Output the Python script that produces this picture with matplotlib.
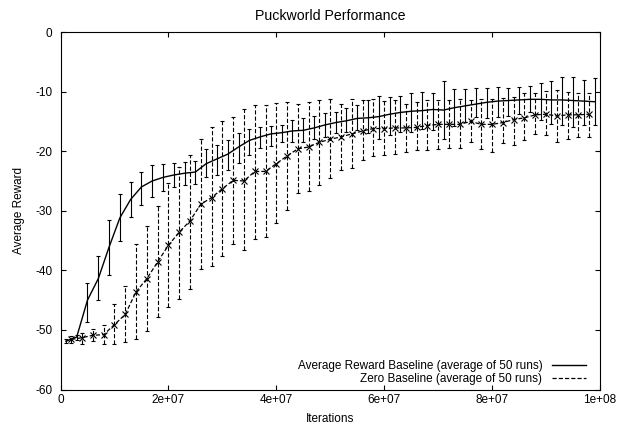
#!/usr/bin/env python3
"""Puckworld performance: average reward vs iterations, two baselines with error bars."""
import matplotlib
matplotlib.use("Agg")
import matplotlib.pyplot as plt
import matplotlib.ticker
from matplotlib.lines import Line2D
import numpy as np

# Average Reward Baseline (iterations in millions)
AVG_ITERS_M = [1, 3, 5, 7, 9, 11, 13, 15, 17, 19, 21, 23, 25, 27, 29, 31, 33, 35, 37, 39,
               41, 43, 45, 47, 49, 51, 53, 55, 57, 59, 61, 63, 65, 67, 69, 71, 73, 75, 77, 79,
               81, 83, 85, 87, 89, 91, 93, 95, 97, 99]
AVG_MEAN = [-51.9, -51.2, -45.0, -41.4, -36.1, -31.2, -28.1, -26.0, -25.0, -24.4,
            -24.0, -23.7, -23.5, -22.1, -21.3, -20.5, -19.3, -18.2, -17.6, -17.1,
            -16.9, -16.6, -16.5, -16.1, -15.6, -15.2, -14.9, -14.5, -14.4, -14.2,
            -13.8, -13.5, -13.3, -13.2, -13.0, -13.1, -12.7, -12.4, -12.1, -11.8,
            -11.6, -11.5, -11.4, -11.3, -11.3, -11.4, -11.4, -11.5, -11.6, -11.7]
AVG_LOW = [-52.2, -51.7, -48.7, -45.0, -40.8, -35.1, -31.1, -29.1, -27.7, -26.7,
           -26.0, -25.7, -25.5, -24.4, -24.0, -23.1, -22.0, -20.7, -19.5, -19.2,
           -18.4, -18.4, -18.4, -17.9, -17.6, -17.0, -16.7, -16.5, -17.0, -17.9,
           -17.3, -16.7, -16.7, -16.2, -16.5, -17.9, -15.7, -15.1, -14.2, -14.5,
           -14.2, -14.1, -13.7, -13.4, -14.8, -15.4, -15.6, -15.9, -15.6, -15.6]
AVG_HIGH = [-51.6, -50.9, -42.2, -37.6, -31.5, -27.2, -25.2, -23.5, -22.4, -22.1,
            -22.0, -21.8, -21.6, -19.6, -18.9, -18.1, -17.0, -16.2, -16.0, -15.8,
            -15.6, -14.7, -14.4, -14.1, -13.6, -13.4, -12.7, -12.2, -11.4, -10.8,
            -10.9, -10.8, -10.2, -10.0, -10.3, -8.2, -9.5, -9.5, -9.4, -9.4,
            -9.2, -9.4, -9.2, -9.1, -8.5, -8.2, -7.6, -7.6, -8.1, -7.8]

# Zero Baseline (iterations in millions)
ZERO_ITERS_M = [2, 4, 6, 8, 10, 12, 14, 16, 18, 20, 22, 24, 26, 28, 30, 32, 34, 36, 38, 40,
                42, 44, 46, 48, 50, 52, 54, 56, 58, 60, 62, 64, 66, 68, 70, 72, 74, 76, 78, 80,
                82, 84, 86, 88, 90, 92, 94, 96, 98]
ZERO_MEAN = [-51.6, -51.3, -50.9, -50.8, -49.1, -47.4, -43.6, -41.4, -38.6, -35.8,
             -33.6, -31.7, -28.9, -27.8, -26.3, -24.9, -25.0, -23.4, -23.4, -22.1,
             -20.8, -19.6, -19.3, -18.5, -18.0, -17.6, -17.1, -16.6, -16.2, -16.2,
             -16.1, -16.1, -16.0, -15.7, -15.5, -15.5, -15.5, -15.0, -15.5, -15.5,
             -15.2, -14.7, -14.4, -13.9, -13.8, -14.1, -13.9, -13.9, -13.8]
ZERO_LOW = [-52.2, -52.3, -51.9, -52.4, -52.4, -52.0, -51.5, -50.1, -47.8, -46.1,
            -44.8, -43.1, -39.7, -39.3, -37.6, -35.6, -36.6, -34.7, -34.4, -32.0,
            -29.8, -27.1, -26.7, -25.6, -24.5, -23.2, -22.9, -21.5, -20.8, -20.6,
            -20.4, -20.1, -19.8, -19.8, -19.6, -19.4, -19.4, -18.4, -19.7, -20.1,
            -18.7, -18.9, -18.2, -17.2, -17.3, -18.4, -17.9, -17.6, -17.6]
ZERO_HIGH = [-51.1, -50.5, -49.8, -49.1, -45.6, -42.7, -35.5, -32.6, -29.2, -25.3,
             -22.6, -20.6, -18.0, -16.0, -15.0, -14.2, -13.0, -12.2, -12.2, -11.9,
             -11.7, -12.0, -11.7, -11.4, -11.3, -12.0, -11.2, -11.4, -11.3, -11.6,
             -11.4, -12.0, -11.7, -11.4, -11.4, -11.4, -11.3, -11.4, -11.2, -11.2,
             -11.0, -10.9, -10.3, -10.3, -9.9, -9.7, -10.1, -10.3, -10.3]

SERIES_LABELS = [
    "Average Reward Baseline (average of 50 runs)",
    "Zero Baseline (average of 50 runs)",
]
X_TICKS = [0, 2e7, 4e7, 6e7, 8e7, 1e8]
Y_TICKS = [-60, -50, -40, -30, -20, -10, 0]

DASH = (0, (3.0, 1.5))

plt.rcParams.update({
    "font.family": ["Liberation Sans", "DejaVu Sans"],
    "font.size": 8.5,
    "axes.unicode_minus": False,
    "lines.scale_dashes": False,
})


def _gnuplot_fmt(x, pos):
    # gnuplot's default "%g" tick format: 0, 2e+07, ..., 1e+08
    return f"{x:g}"


def main():
    fig = plt.figure(figsize=(6.18, 4.25), dpi=100)
    ax = fig.add_axes([0.0979, 0.0835, 0.8730, 0.8412])

    avg_x = np.array(AVG_ITERS_M) * 1e6
    avg_mean = np.array(AVG_MEAN)
    avg_err = [avg_mean - np.array(AVG_LOW), np.array(AVG_HIGH) - avg_mean]
    ax.errorbar(avg_x, avg_mean, yerr=avg_err, color="black", linewidth=1.0,
                elinewidth=0.8, capsize=1.6, capthick=0.8, zorder=3)

    zero_x = np.array(ZERO_ITERS_M) * 1e6
    zero_mean = np.array(ZERO_MEAN)
    zero_err = [zero_mean - np.array(ZERO_LOW), np.array(ZERO_HIGH) - zero_mean]
    eb = ax.errorbar(zero_x, zero_mean, yerr=zero_err, color="black", linewidth=0.9,
                     linestyle=DASH, marker="x", markersize=4.5, markeredgewidth=0.8,
                     elinewidth=0.8, capsize=1.6, capthick=0.8, zorder=4)
    eb[2][0].set_linestyle(DASH)

    ax.set_xlim(0, 1e8)
    ax.set_ylim(-60, 0)
    ax.set_xticks(X_TICKS)
    ax.set_yticks(Y_TICKS)
    ax.xaxis.set_major_formatter(matplotlib.ticker.FuncFormatter(_gnuplot_fmt))
    ax.tick_params(direction="in", top=True, right=True, length=3.6, width=0.8)
    ax.tick_params(axis="x", pad=3.5)
    ax.tick_params(axis="y", pad=6)
    for spine in ax.spines.values():
        spine.set_linewidth(0.8)

    ax.set_title("Puckworld Performance", pad=9)
    ax.set_xlabel("Iterations", va="top")
    ax.xaxis.set_label_coords(0.5, -0.066)
    ax.set_ylabel("Average Reward")
    ax.yaxis.set_label_coords(-0.0658, 0.5)

    handles = [
        Line2D([], [], color="black", linewidth=1.0),
        Line2D([], [], color="black", linewidth=0.9, linestyle=DASH),
    ]
    ax.legend(handles, SERIES_LABELS, loc="lower right", bbox_to_anchor=(0.974, 0.0126),
              frameon=False, markerfirst=False, borderaxespad=0, borderpad=0,
              handlelength=2.9, handletextpad=0.8, labelspacing=0.1)

    fig.savefig("out.png", dpi=100)
    plt.close(fig)


if __name__ == "__main__":
    main()
